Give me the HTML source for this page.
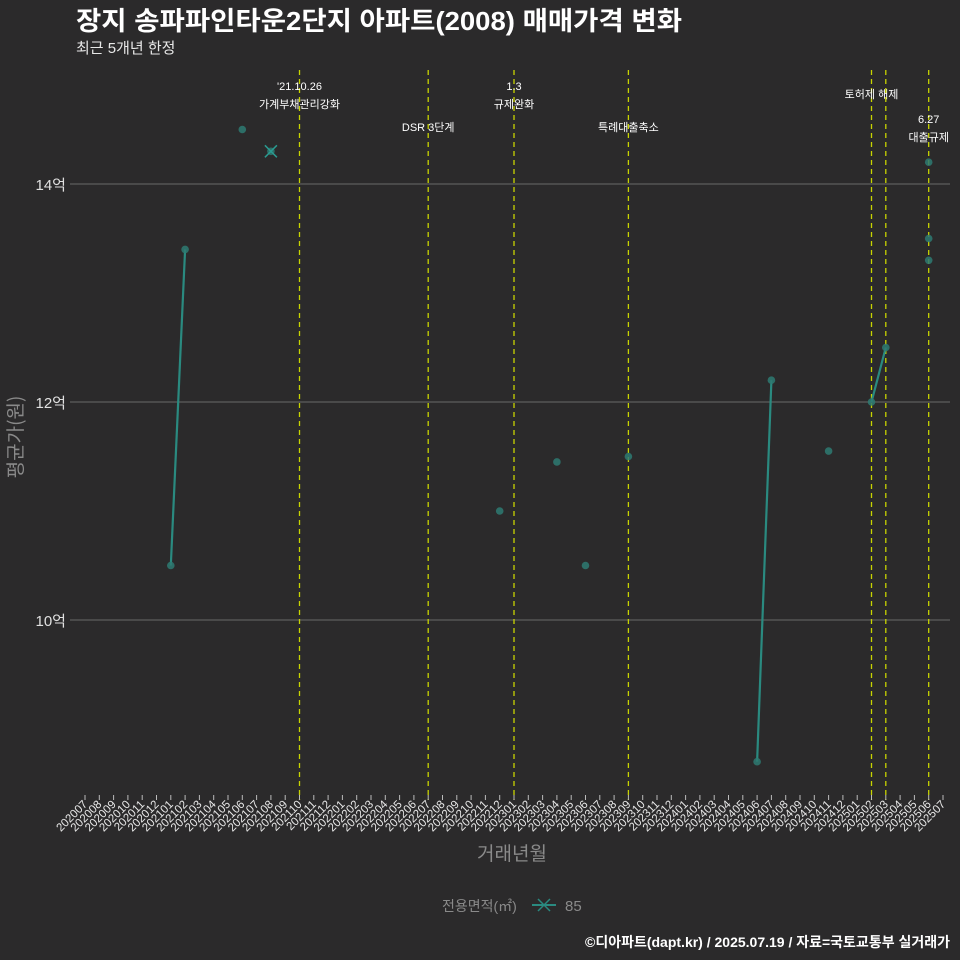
<!DOCTYPE html>
<html><head><meta charset="utf-8"><style>
html,body{margin:0;padding:0;background:#2b2a2b;}
svg{display:block;font-family:"Liberation Sans","Noto Sans CJK KR",sans-serif;}
</style></head><body>
<svg id="chart" width="960" height="960" viewBox="0 0 960 960">
<rect width="960" height="960" fill="#2b2a2b"/>
<text x="76" y="30" fill="#ffffff" font-size="26" font-weight="bold" textLength="606" lengthAdjust="spacingAndGlyphs">장지 송파파인타운2단지 아파트(2008) 매매가격 변화</text>
<text x="76" y="53" fill="#e8e8e8" font-size="15">최근 5개년 한정</text>
<g id="grid"></g><g id="vlines"></g><g id="series"></g><g id="xaxis"></g>
<text transform="translate(22,437) rotate(-90)" text-anchor="middle" fill="#8a8a8a" font-size="19" font-family="Noto Sans CJK KR, sans-serif">평균가(원)</text>
<text x="512" y="860" text-anchor="middle" fill="#8a8a8a" font-size="19">거래년월</text>
<g>
<text x="442" y="911" fill="#8a8a8a" font-size="14">전용면적(㎡)</text>
<line x1="532" y1="905" x2="556" y2="905" stroke="#2a8a80" stroke-width="2"/>
<path d="M538 899 L550 911 M550 899 L538 911" stroke="#2a8a80" stroke-width="1.5"/>
<text x="565" y="911" fill="#8a8a8a" font-size="15">85</text>
</g>
<text x="950" y="947" text-anchor="end" fill="#ffffff" font-size="14" font-weight="bold">©디아파트(dapt.kr) / 2025.07.19 / 자료=국토교통부 실거래가</text>
</svg>
<script>
const months=[];for(let y=2020;y<=2025;y++)for(let m=1;m<=12;m++){const k=y*100+m;if(k>=202007&&k<=202507)months.push(String(k));}
const yTicks=[10,12,14];
const yTickLabels=["10억","12억","14억"];
const pointMonths=["202101","202102","202106","202108","202212","202304","202306","202309","202406","202407","202411","202502","202503","202506","202506","202506"];
const pointValues=[10.5,13.4,14.5,14.3,11.0,11.45,10.5,11.5,8.7,12.2,11.55,12.0,12.5,14.2,13.5,13.3];
const eventMonths=["202110","202207","202301","202309","202502","202503","202506"];
const eventLabels=[["'21.10.26","가계부채관리강화"],["DSR 3단계"],["1.3","규제완화"],["특례대출축소"],["토허제 해제"],[],["6.27","대출규제"]];
const eventLabelY=[90,131,90,131,98,0,123];
const NS="http://www.w3.org/2000/svg";
const X=m=>85+months.indexOf(m)*(943-85)/60;
const Y=v=>184+(14-v)*109;
function mk(tag,attrs,parent,txt){const e=document.createElementNS(NS,tag);for(const k in attrs)e.setAttribute(k,attrs[k]);if(txt!==undefined)e.textContent=txt;document.getElementById(parent).appendChild(e);return e;}
yTicks.forEach((v,i)=>{
 let l=mk('line',{x1:70,x2:950,y1:Y(v),y2:Y(v),stroke:'#6a6a6a','stroke-width':1},'grid');
 
 
 let t=mk('text',{x:66,y:Y(v)+6,'text-anchor':'end',fill:'#e0e0e0','font-size':15},'grid',yTickLabels[i]);
 
 
});
eventMonths.forEach((m,i)=>{
 let l=mk('line',{x1:X(m),x2:X(m),y1:70,y2:800,stroke:'#c8d400','stroke-width':1.3,'stroke-dasharray':'5,4'},'vlines');
 
 
 eventLabels[i].forEach((s,j)=>{
  let t=mk('text',{x:X(m),y:eventLabelY[i]+j*18,'text-anchor':'middle',fill:'#ffffff','font-size':11},'vlines',s);
  
  
 });
});
for(let i=0;i<pointMonths.length-1;i++){
 const a=months.indexOf(pointMonths[i]),b=months.indexOf(pointMonths[i+1]);
 if(b-a===1){
  let l=mk('line',{x1:X(pointMonths[i]),y1:Y(pointValues[i]),x2:X(pointMonths[i+1]),y2:Y(pointValues[i+1]),stroke:'#2a8a80','stroke-width':2.2},'series');
  
  
 }
}
pointMonths.forEach((m,i)=>{
 let c=mk('circle',{cx:X(m),cy:Y(pointValues[i]),r:3.8,fill:'#2e7a72','fill-opacity':0.85},'series');
 
 
 if(m==="202108"){
  const x=X(m),y=Y(pointValues[i]);
  let p=mk('path',{d:`M${x-6} ${y-6}L${x+6} ${y+6}M${x+6} ${y-6}L${x-6} ${y+6}`,stroke:'#2a9a90','stroke-width':1.5},'series');
  
  
 }
});
months.forEach(m=>{
 const x=X(m);
 let tk=mk('line',{x1:x,x2:x,y1:795,y2:800,stroke:'#bbbbbb','stroke-width':1},'xaxis');
 
 
 let t=mk('text',{x:x+3,y:805,transform:`rotate(-45 ${x+3} 805)`,'text-anchor':'end',fill:'#e8e8e8','font-size':11.5},'xaxis',m);
 
 
});
</script>
</body></html>
